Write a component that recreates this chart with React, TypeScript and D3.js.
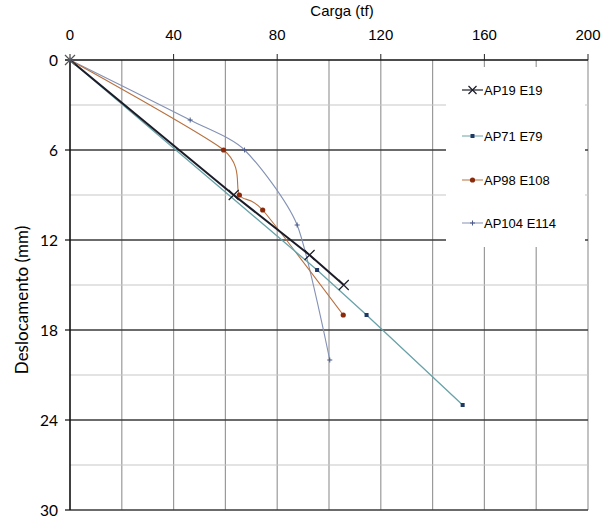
import React from "react";
import * as d3 from "d3";

const xTicks = [0, 40, 80, 120, 160, 200];
const xGrid = [20, 60, 100, 140, 180];
const yMajor = [0, 6, 12, 18, 24, 30];
const yMinor = [3, 9, 15, 21, 27];

const seriesNames = ["AP19 E19", "AP71 E79", "AP98 E108", "AP104 E114"];

const ap19Load = [0, 63.2, 92.5, 105.7];
const ap19Disp = [0, 9, 13, 15];

const ap71Load = [0, 95.4, 114.5, 151.6];
const ap71Disp = [0, 14, 17, 23];

const ap98Load = [0, 59.3, 65.4, 74.4, 105.5];
const ap98Disp = [0, 6, 9, 10, 17];

const ap104Load = [0, 46.4, 67.4, 87.7, 100.3];
const ap104Disp = [0, 4, 6, 11, 20];

const W = 603, H = 518;
const x = d3.scaleLinear().domain([0, 200]).range([70, 588]);
const y = d3.scaleLinear().domain([0, 30]).range([60, 510]);

type P = [number, number];
const zip = (a: number[], b: number[]): P[] => a.map((v, i) => [v, b[i]]);

const straight = d3.line<P>().x(d => x(d[0])).y(d => y(d[1]));
const smooth = d3.line<P>().x(d => x(d[0])).y(d => y(d[1])).curve(d3.curveCardinal.tension(0.3));

const ap19 = zip(ap19Load, ap19Disp);
const ap71 = zip(ap71Load, ap71Disp);
const ap98 = zip(ap98Load, ap98Disp);
const ap104 = zip(ap104Load, ap104Disp);

const XMark = ({ cx, cy, s = 5, color = "#1c1c28" }: any) => (
  <path d={`M${cx - s},${cy - s}L${cx + s},${cy + s}M${cx - s},${cy + s}L${cx + s},${cy - s}`} stroke={color} strokeWidth={1.2} fill="none" />
);
const Square = ({ cx, cy, color = "#1f3864" }: any) => (
  <rect x={cx - 2} y={cy - 2} width={4} height={4} fill={color} />
);
const Dot = ({ cx, cy, color = "#8b2a0a" }: any) => <circle cx={cx} cy={cy} r={2.6} fill={color} />;
const Plus = ({ cx, cy, color = "#4a5a8a" }: any) => (
  <path d={`M${cx - 2.5},${cy}L${cx + 2.5},${cy}M${cx},${cy - 2.5}L${cx},${cy + 2.5}`} stroke={color} strokeWidth={1} />
);

const legendY = [90, 136, 180, 223];
const arial = "Liberation Sans, Arial, sans-serif";
const calibri = "Lato, Open Sans, sans-serif";

export default function App() {
  return (
    <svg width={W} height={H} style={{ position: "absolute", left: 0, top: 0, background: "#fff" }}>
      <rect x={0} y={0} width={W} height={H} fill="#fff" />
      {[...xGrid, ...xTicks.slice(1)].map(v => (
        <line key={"vx" + v} x1={x(v)} x2={x(v)} y1={y(0)} y2={y(30)} stroke="#9a9a9a" strokeWidth={1.2} />
      ))}
      {yMinor.map(v => (
        <line key={"hm" + v} x1={x(0)} x2={x(200)} y1={y(v)} y2={y(v)} stroke="#c8c8c8" strokeWidth={1.2} />
      ))}
      {yMajor.map(v => (
        <line key={"hM" + v} x1={x(0) - 5} x2={x(200)} y1={y(v)} y2={y(v)} stroke={v === 0 ? "#111" : "#3a3a3a"} strokeWidth={v === 0 ? 1.6 : 1.3} />
      ))}
      {xTicks.map(v => (
        <line key={"tt" + v} x1={x(v)} x2={x(v)} y1={y(0) - 6} y2={y(0)} stroke="#222" strokeWidth={1} />
      ))}
      <line x1={x(0)} x2={x(0)} y1={y(0)} y2={y(30)} stroke="#111" strokeWidth={1.6} />

      <rect x={446} y={67} width={139} height={180} fill="#fff" />

      <path d={smooth(ap104) || ""} fill="none" stroke="#8391b5" strokeWidth={1.1} />
      <path d={smooth(ap98) || ""} fill="none" stroke="#b8703f" strokeWidth={1.1} />
      <path d={straight(ap71) || ""} fill="none" stroke="#68a2a8" strokeWidth={1.3} />
      <path d={straight(ap19) || ""} fill="none" stroke="#1c1c28" strokeWidth={2} />

      {ap104.map((d, i) => <Plus key={"p" + i} cx={x(d[0])} cy={y(d[1])} />)}
      {ap98.slice(1).map((d, i) => <Dot key={"d" + i} cx={x(d[0])} cy={y(d[1])} />)}
      {ap71.slice(1).map((d, i) => <Square key={"s" + i} cx={x(d[0])} cy={y(d[1])} />)}
      {ap19.map((d, i) => <XMark key={"x" + i} cx={x(d[0])} cy={y(d[1])} color={i === 0 ? "#555" : "#1c1c28"} />)}

      {seriesNames.map((n, i) => {
        const ly = legendY[i];
        const colors = ["#1c1c28", "#68a2a8", "#b8703f", "#8391b5"];
        return (
          <g key={n}>
            <line x1={462} x2={483} y1={ly} y2={ly} stroke={colors[i]} strokeWidth={i === 0 ? 1.2 : 1} />
            {i === 0 && <XMark cx={472.5} cy={ly} s={4} />}
            {i === 1 && <Square cx={472.5} cy={ly} />}
            {i === 2 && <Dot cx={472.5} cy={ly} />}
            {i === 3 && <Plus cx={472.5} cy={ly} />}
            <text x={484} y={ly} dy="0.36em" fontFamily={arial} fontSize={13} fill="#000">{n}</text>
          </g>
        );
      })}

      {xTicks.map(v => (
        <text key={"tl" + v} x={x(v)} y={35} textAnchor="middle" dy="0.36em" fontFamily={arial} fontSize={15} fill="#000">{v}</text>
      ))}
      <text x={342} y={11} textAnchor="middle" dy="0.36em" fontFamily={arial} fontSize={15} fill="#000">Carga (tf)</text>

      {yMajor.map(v => (
        <text key={"yl" + v} x={58} y={y(v)} textAnchor="end" dy="0.36em" fontFamily={calibri} fontSize={15.5} fill="#000">{v}</text>
      ))}
      <text transform={`translate(22,300) rotate(-90)`} textAnchor="middle" dy="0.36em" fontFamily={calibri} fontSize={17} fill="#000">Deslocamento (mm)</text>
    </svg>
  );
}
